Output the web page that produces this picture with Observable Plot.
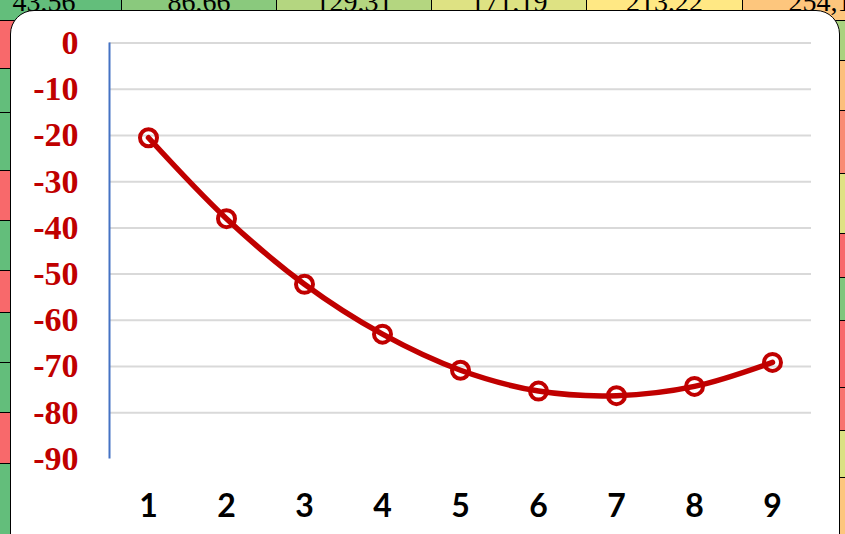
<!DOCTYPE html>
<html>
<head>
<meta charset="utf-8">
<script src="https://cdn.jsdelivr.net/npm/d3@7"></script>
<script src="https://cdn.jsdelivr.net/npm/@observablehq/plot@0.6"></script>
<style>
  html, body { margin: 0; padding: 0; width: 845px; height: 534px; overflow: hidden; background: #fff; }
  #bg { position: absolute; left: 0; top: 0; width: 845px; height: 534px; overflow: hidden; }
  .cell { position: absolute; box-sizing: border-box; border: 1px solid #000; font-family: "Liberation Serif", serif; font-size: 28px; color: #000; text-align: center; overflow: hidden; }
  .cell span { position: absolute; left: 0; right: 0; bottom: 4px; line-height: 28px; }
  #card { position: absolute; left: 10px; top: 10px; width: 830px; height: 560px; background: #fff; border: 1.5px solid #000; border-radius: 24px; box-sizing: border-box; }
  #chart { position: absolute; left: 0; top: 0; }
</style>
</head>
<body>
<div id="bg"></div>
<div id="card"></div>
<div id="chart"></div>
<script>
// Chart data
const xValues = [1, 2, 3, 4, 5, 6, 7, 8, 9];
const yValues = [-20.5, -38.0, -52.2, -63.0, -70.8, -75.3, -76.3, -74.3, -69.1];
const yTicks = [0, -10, -20, -30, -40, -50, -60, -70, -80, -90];
const gridTicks = [0, -10, -20, -30, -40, -50, -60, -70, -80];

// Background spreadsheet (decoration)
const topCellLabels = ["43,56", "86,66", "129,31", "171,19", "213,22", "254,1"];
const topCellColors = ["#63be7b", "#8ac97d", "#b4d680", "#dee283", "#ffe884", "#fdc67d"];
const topCellEdges = [-34, 121, 276, 431, 586, 742, 897];
const leftRowEdges = [20, 68, 112, 170, 220, 270, 312, 362, 412, 463, 540];
const leftRowColors = ["#f8696b", "#63be7b", "#63be7b", "#f8696b", "#63be7b", "#f8696b", "#63be7b", "#63be7b", "#f8696b", "#63be7b"];
const rightRowEdges = [20, 60, 110, 173, 233, 277, 320, 387, 430, 477, 540];
const rightRowColors = ["#a9d27f", "#fcbf7b", "#f98b74", "#dfe283", "#f8696b", "#7fc67c", "#f8696b", "#f8736e", "#dae182", "#fdc67d"];

const bg = document.getElementById("bg");
function addCell(x0, x1, y0, y1, color, text) {
  const d = document.createElement("div");
  d.className = "cell";
  d.style.left = x0 + "px"; d.style.top = y0 + "px";
  d.style.width = (x1 - x0 + 1) + "px"; d.style.height = (y1 - y0 + 1) + "px";
  d.style.background = color;
  if (text) { const s = document.createElement("span"); s.textContent = text; d.appendChild(s); }
  bg.appendChild(d);
}
for (let i = 0; i < topCellColors.length; i++) {
  addCell(topCellEdges[i], topCellEdges[i + 1], -30, 20, topCellColors[i], topCellLabels[i]);
}
for (let i = 0; i < leftRowColors.length; i++) {
  addCell(-40, 20, leftRowEdges[i], leftRowEdges[i + 1], leftRowColors[i]);
}
for (let i = 0; i < rightRowColors.length; i++) {
  addCell(830, 900, rightRowEdges[i], rightRowEdges[i + 1], rightRowColors[i]);
}

const data = xValues.map((x, i) => ({x, y: yValues[i]}));
const red = "#c00000";

const chart = Plot.plot({
  width: 845,
  height: 534,
  marginLeft: 109,
  marginRight: 34,
  marginTop: 42.5,
  marginBottom: 75.5,
  style: {background: "transparent", overflow: "visible"},
  x: {domain: [0.5, 9.5], axis: null},
  y: {domain: [-90, 0], axis: null},
  marks: [
    Plot.gridY(gridTicks, {stroke: "#d9d9d9", strokeOpacity: 1, strokeWidth: 2}),
    Plot.ruleX([0.5], {stroke: "#4472c4", strokeWidth: 2}),
    Plot.axisY({ticks: yTicks, label: null, tickSize: 0, tickPadding: 31, tickFormat: d => String(d),
      fontSize: 34, fontWeight: "bold", fontFamily: "Liberation Serif", fill: red}),
    Plot.axisX({ticks: xValues, label: null, tickSize: 0, tickPadding: 35, tickFormat: d => String(d),
      fontSize: 32, fontWeight: "bold", fontFamily: "Lato", fill: "#000"}),
    Plot.line(data, {x: "x", y: "y", curve: "catmull-rom", stroke: red, strokeWidth: 5.5, strokeLinecap: "round"}),
    Plot.dot(data, {x: "x", y: "y", r: 8.5, stroke: red, strokeWidth: 4, fill: "none"})
  ]
});
document.getElementById("chart").appendChild(chart);
</script>
</body>
</html>
